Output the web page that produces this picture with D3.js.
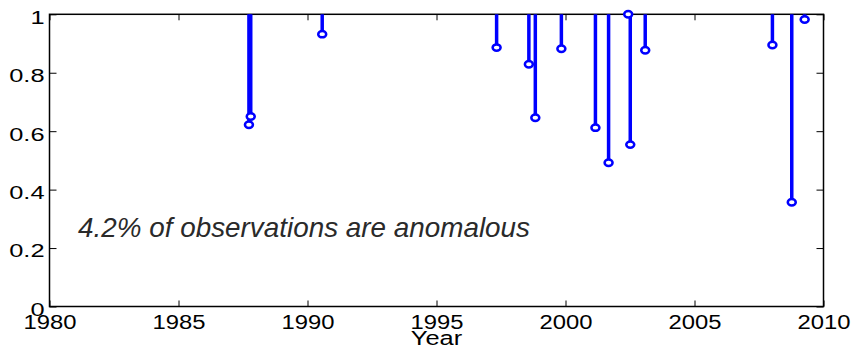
<!DOCTYPE html>
<html>
<head>
<meta charset="utf-8">
<script src="https://cdn.jsdelivr.net/npm/d3@7"></script>
<style>
  html, body { margin: 0; padding: 0; background: #fff; }
  svg { display: block; }
  text { font-family: "Liberation Sans", Arial, Helvetica, sans-serif; }
</style>
</head>
<body>
<svg id="chart" width="854" height="347"></svg>
<script>
// ---- data ----
const years  = [1987.73, 1987.80, 1990.57, 1997.33, 1998.58, 1998.83, 1999.84, 2001.16, 2001.67, 2002.43, 2002.51, 2003.09, 2008.02, 2008.77, 2009.27];
const values = [0.622, 0.650, 0.932, 0.886, 0.829, 0.646, 0.882, 0.612, 0.492, 1.000, 0.554, 0.877, 0.895, 0.357, 0.982];
const xTicks = [1980, 1985, 1990, 1995, 2000, 2005, 2010];
const yTicks = [0, 0.2, 0.4, 0.6, 0.8, 1];
const yTickLabels = ["0", "0.2", "0.4", "0.6", "0.8", "1"];
const xLabel = "Year";
const note = "4.2% of observations are anomalous";
const stemBase = 1;

// ---- layout ----
const svg = d3.select("#chart");
const mL = 49.5, mR = 823.5, mT = 14.3, mB = 306.5;
const x = d3.scaleLinear().domain([1980, 2010]).range([mL, mR]);
const y = d3.scaleLinear().domain([0, 1]).range([mB, mT]);
const blue = "#0000ff";

function stretch(sel, factor) {
  sel.each(function () {
    const len = this.getComputedTextLength();
    d3.select(this).attr("textLength", len * factor).attr("lengthAdjust", "spacingAndGlyphs");
  });
}

// box
svg.append("rect")
  .attr("x", mL).attr("y", mT)
  .attr("width", mR - mL).attr("height", mB - mT)
  .attr("fill", "none").attr("stroke", "#000").attr("stroke-width", 1.5);

// bottom axis (ticks inward)
const xa = svg.append("g").attr("transform", `translate(0,${mB})`)
  .call(d3.axisBottom(x).tickValues(xTicks).tickFormat(d3.format("d")).tickSizeInner(-6).tickSizeOuter(0).tickPadding(0));
xa.select(".domain").remove();
xa.selectAll("line").attr("stroke", "#000");
xa.selectAll("text").attr("font-size", 20).attr("fill", "#000").attr("y", 22).attr("dy", 0);
stretch(xa.selectAll("text"), 1.19);

// top ticks
const xt = svg.append("g").attr("transform", `translate(0,${mT})`)
  .call(d3.axisTop(x).tickValues(xTicks).tickFormat("").tickSizeInner(-6).tickSizeOuter(0));
xt.select(".domain").remove();
xt.selectAll("line").attr("stroke", "#000");

// left axis
const ya = svg.append("g").attr("transform", `translate(${mL},0)`)
  .call(d3.axisLeft(y).tickValues(yTicks).tickFormat((d, i) => yTickLabels[i]).tickSizeInner(-7).tickSizeOuter(0).tickPadding(0));
ya.select(".domain").remove();
ya.selectAll("line").attr("stroke", "#000");
ya.selectAll("text").attr("font-size", 17.5).attr("fill", "#000").attr("x", -5).attr("dy", "0.68em")
  .attr("y", -3);
stretch(ya.selectAll("text"), 1.45);

// right ticks
const yr = svg.append("g").attr("transform", `translate(${mR},0)`)
  .call(d3.axisRight(y).tickValues(yTicks).tickFormat("").tickSizeInner(-7).tickSizeOuter(0));
yr.select(".domain").remove();
yr.selectAll("line").attr("stroke", "#000");

// x label
const xl = svg.append("text")
  .attr("x", (mL + mR) / 2).attr("y", 345)
  .attr("text-anchor", "middle").attr("font-size", 20.5).attr("fill", "#000")
  .text(xLabel);
stretch(xl, 1.24);

// stems
const pts = years.map((yy, i) => ({ year: yy, value: values[i] }));
svg.append("g").selectAll("line").data(pts).join("line")
  .attr("x1", d => x(d.year)).attr("x2", d => x(d.year))
  .attr("y1", y(stemBase)).attr("y2", d => y(d.value))
  .attr("stroke", blue).attr("stroke-width", 3.5);

// markers
svg.append("g").selectAll("ellipse").data(pts).join("ellipse")
  .attr("cx", d => x(d.year)).attr("cy", d => y(d.value))
  .attr("rx", 4).attr("ry", 3.2)
  .attr("fill", "#fff").attr("stroke", blue).attr("stroke-width", 2.5);

// annotation
svg.append("text")
  .attr("x", 78).attr("y", 237.3)
  .attr("font-size", 28).attr("font-style", "italic").attr("fill", "#2a2a2a")
  .attr("textLength", 452).attr("lengthAdjust", "spacingAndGlyphs")
  .text(note);
</script>
</body>
</html>
